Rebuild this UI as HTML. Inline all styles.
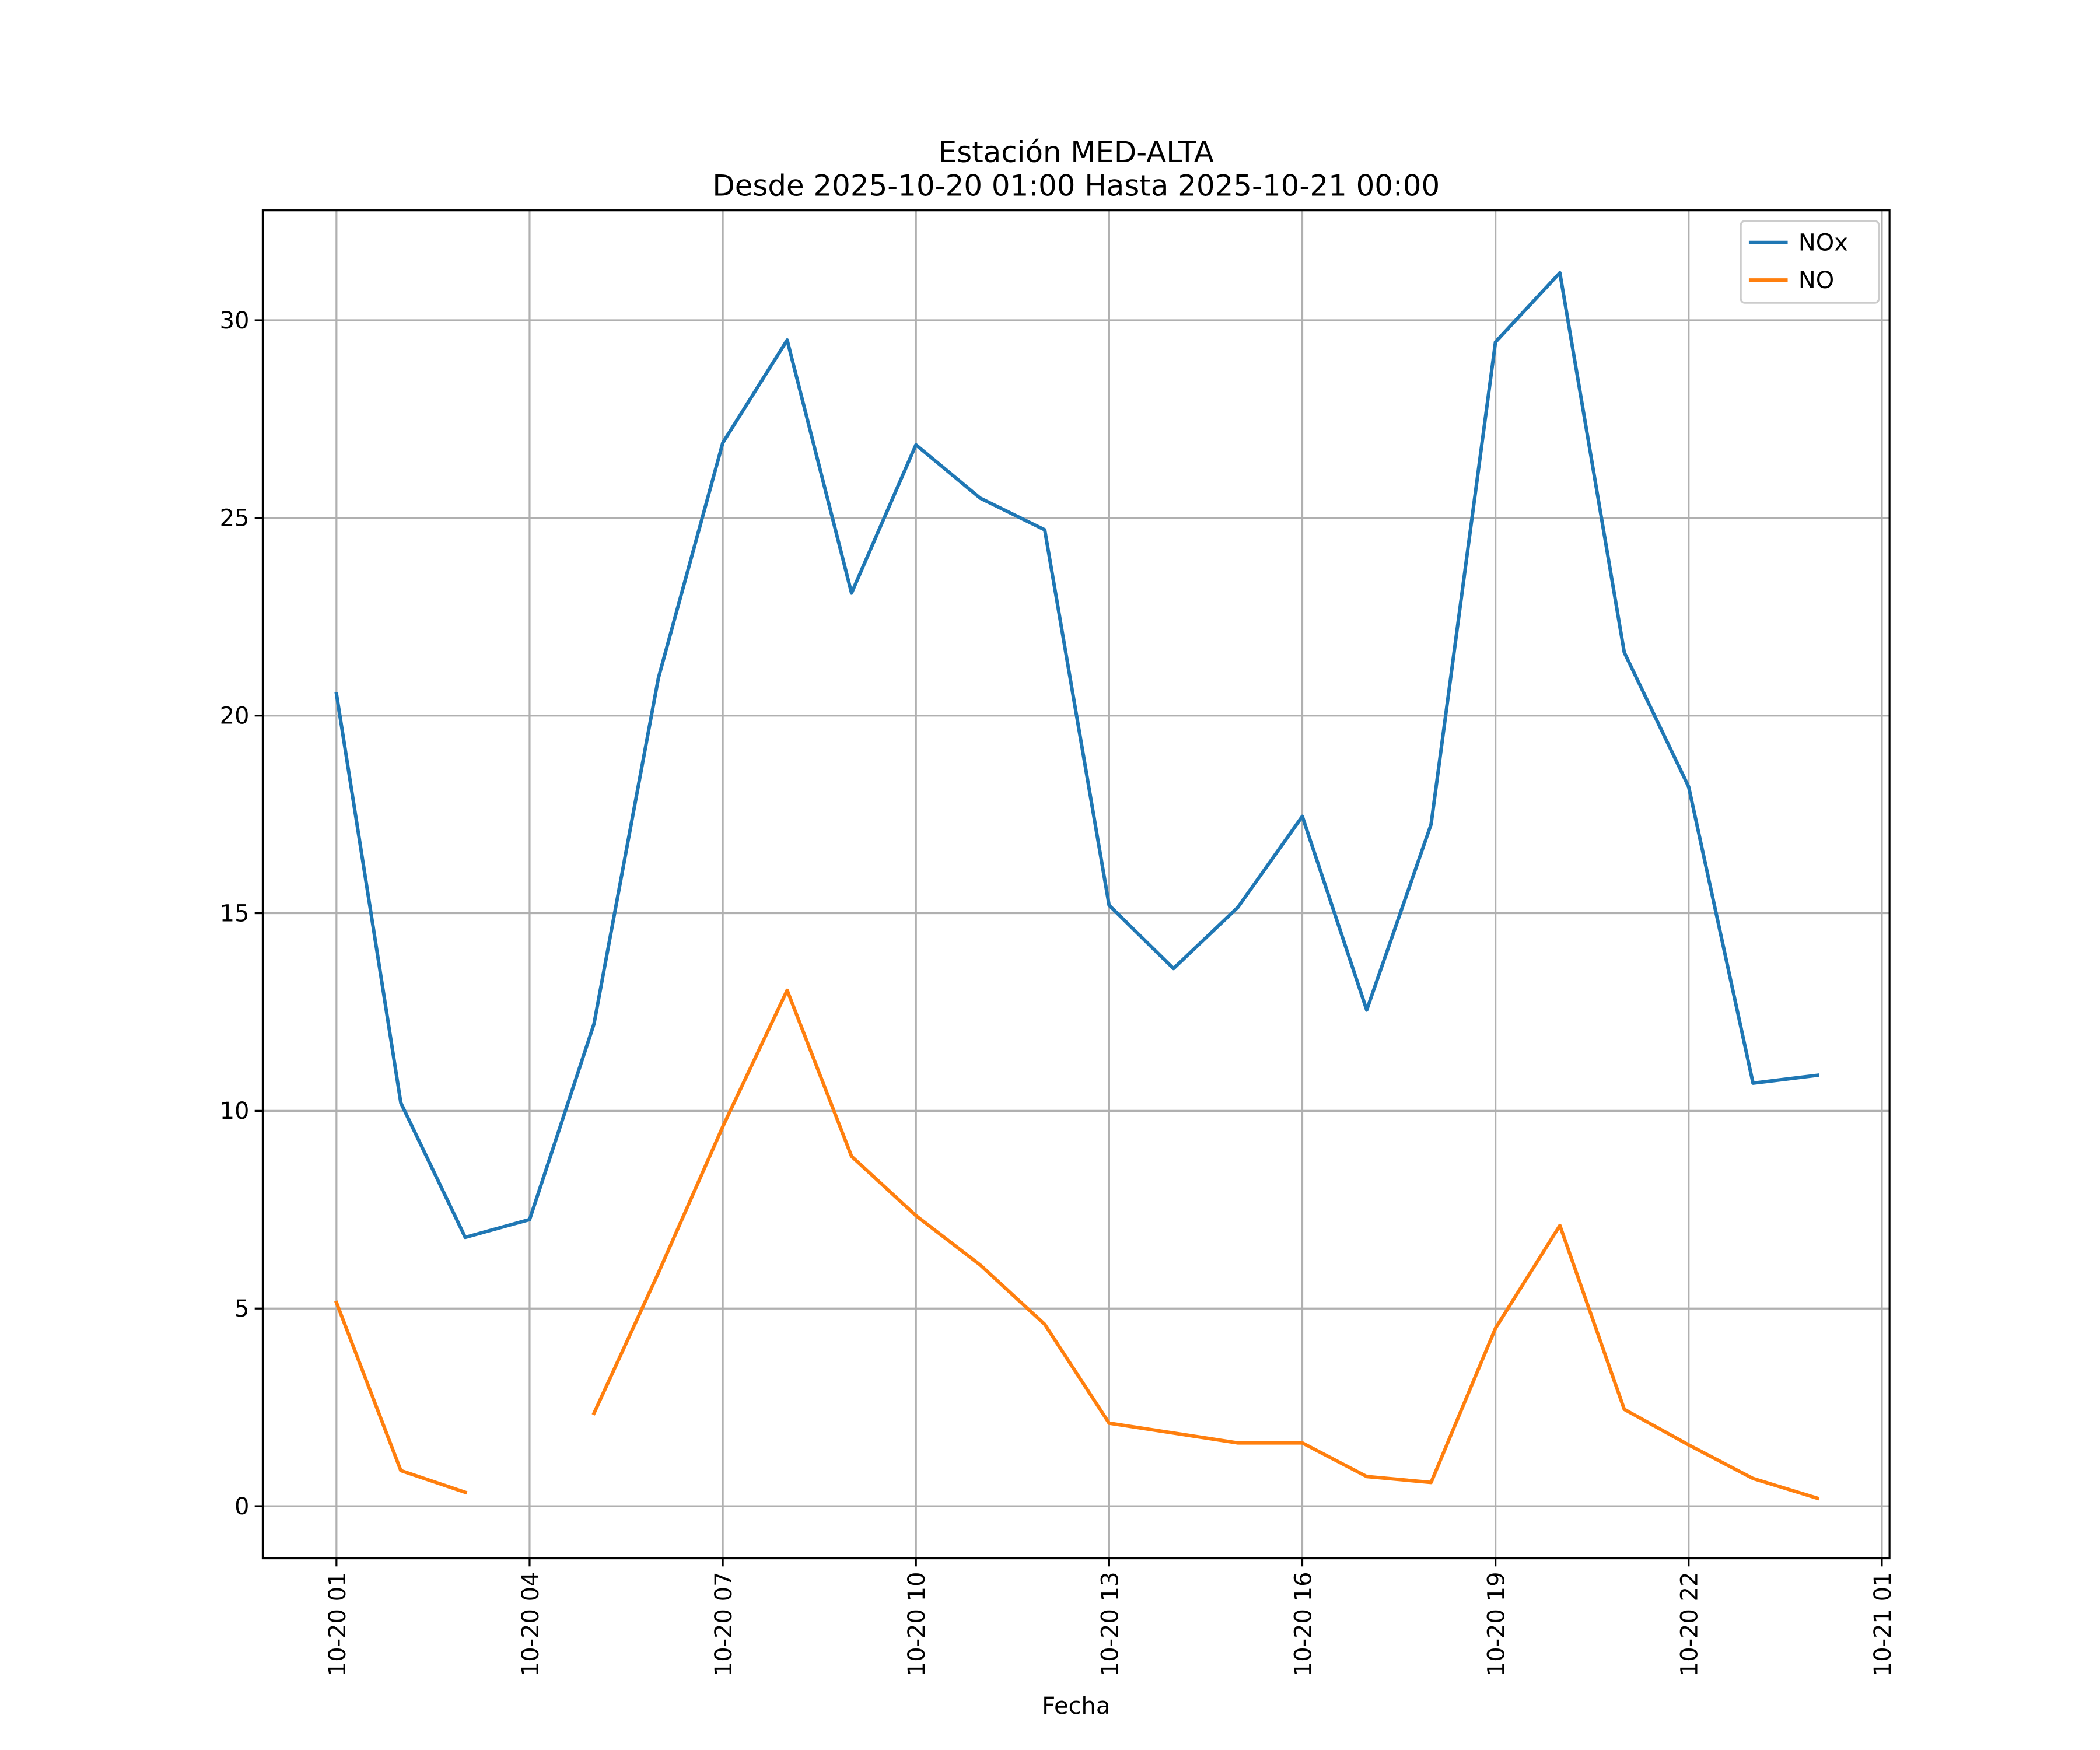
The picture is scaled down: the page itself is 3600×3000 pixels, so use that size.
<!DOCTYPE html>
<html><head><meta charset="utf-8"><style>html,body{margin:0;padding:0;background:#fff}svg{display:block}text{font-family:"DejaVu Sans","Liberation Sans",sans-serif;fill:#000}</style></head>
<body>
<svg id="chart" width="3600" height="3000" viewBox="0 0 1567 1306" xmlns="http://www.w3.org/2000/svg">
<rect width="1567" height="1306" fill="#fff"/>
<text x="803" y="121" font-size="21.7" text-anchor="middle">Estación MED-ALTA</text>
<text x="803" y="146" font-size="21.7" text-anchor="middle">Desde 2025-10-20 01:00 Hasta 2025-10-21 00:00</text>
<g id="grid"></g>
<g id="series"></g>
<rect x="196" y="157" width="1214" height="1006" fill="none" stroke="#000" stroke-width="1.4"/>
<g id="ticks"></g>
<text x="803" y="1279" font-size="17.4" text-anchor="middle">Fecha</text>
<g>
<rect x="1299" y="165" width="103" height="61" rx="3" fill="#fff" fill-opacity="0.8" stroke="#ccc" stroke-width="1.4"/>
<line x1="1305" y1="181" x2="1334" y2="181" stroke="#1f77b4" stroke-width="2.6"/>
<text x="1342" y="187" font-size="17.4">NOx</text>
<line x1="1305" y1="209" x2="1334" y2="209" stroke="#ff7f0e" stroke-width="2.6"/>
<text x="1342" y="215" font-size="17.4">NO</text>
</g>
</svg>
<script>
const hours = [1,2,3,4,5,6,7,8,9,10,11,12,13,14,15,16,17,18,19,20,21,22,23,24];
const noxValues = [20.55,10.2,6.8,7.25,12.2,20.95,26.9,29.5,23.1,26.85,25.5,24.7,15.2,13.6,15.15,17.45,12.55,17.25,29.45,31.2,21.6,18.2,10.7,10.9];
const noValues = [5.15,0.9,0.35,null,2.35,5.9,9.6,13.05,8.85,7.35,6.1,4.6,2.1,1.85,1.6,1.6,0.75,0.6,4.5,7.1,2.45,1.55,0.7,0.2];
const yTicks = [0,5,10,15,20,25,30];
const xTickHours = [1,4,7,10,13,16,19,22,25];
const xTickLabels = ["10-20 01","10-20 04","10-20 07","10-20 10","10-20 13","10-20 16","10-20 19","10-20 22","10-21 01"];

const L=196,R=1410,T=157,B=1163;
const xMin=-0.145, xMax=25.12, yMin=-1.32, yMax=32.78;
const xs=h=>L+(h-xMin)/(xMax-xMin)*(R-L);
const ys=v=>B-(v-yMin)/(yMax-yMin)*(B-T);
const NS="http://www.w3.org/2000/svg";
function mk(tag,attrs,parent){const e=document.createElementNS(NS,tag);for(const k in attrs)e.setAttribute(k,attrs[k]);parent.appendChild(e);return e;}
const grid=document.getElementById('grid'),ticks=document.getElementById('ticks'),series=document.getElementById('series');
yTicks.forEach(v=>{
  const y=ys(v);
  const g=mk('line',{x1:L,x2:R,y1:y,y2:y,stroke:'#b0b0b0','stroke-width':1.4},grid);
  
  
  mk('line',{x1:L-6,x2:L,y1:y,y2:y,stroke:'#000','stroke-width':1.4},ticks);
  const t=mk('text',{x:L-10,y:y+6,'font-size':17.4,'text-anchor':'end'},ticks);
  t.textContent=v;
  
  
});
xTickHours.forEach((h,i)=>{
  const x=xs(h);
  const g=mk('line',{x1:x,x2:x,y1:T,y2:B,stroke:'#b0b0b0','stroke-width':1.4},grid);
  
  
  mk('line',{x1:x,x2:x,y1:B,y2:B+6,stroke:'#000','stroke-width':1.4},ticks);
  const t=mk('text',{x:0,y:0,'font-size':17.4,'text-anchor':'end',transform:`translate(${x+6.5},${B+10}) rotate(-90)`},ticks);
  t.textContent=xTickLabels[i];
  
  
});
function drawSeries(vals,color,name){
  let d='',pen=false;
  vals.forEach((v,i)=>{
    if(v===null){pen=false;return;}
    d+=(pen?'L':'M')+xs(hours[i]).toFixed(2)+','+ys(v).toFixed(2);
    pen=true;
  });
  const p=mk('path',{d:d,fill:'none',stroke:color,'stroke-width':2.6,'stroke-linejoin':'round','stroke-linecap':'square'},series);
  
  
}
drawSeries(noxValues,'#1f77b4','nox-line');
drawSeries(noValues,'#ff7f0e','no-line');
</script>
</body></html>
